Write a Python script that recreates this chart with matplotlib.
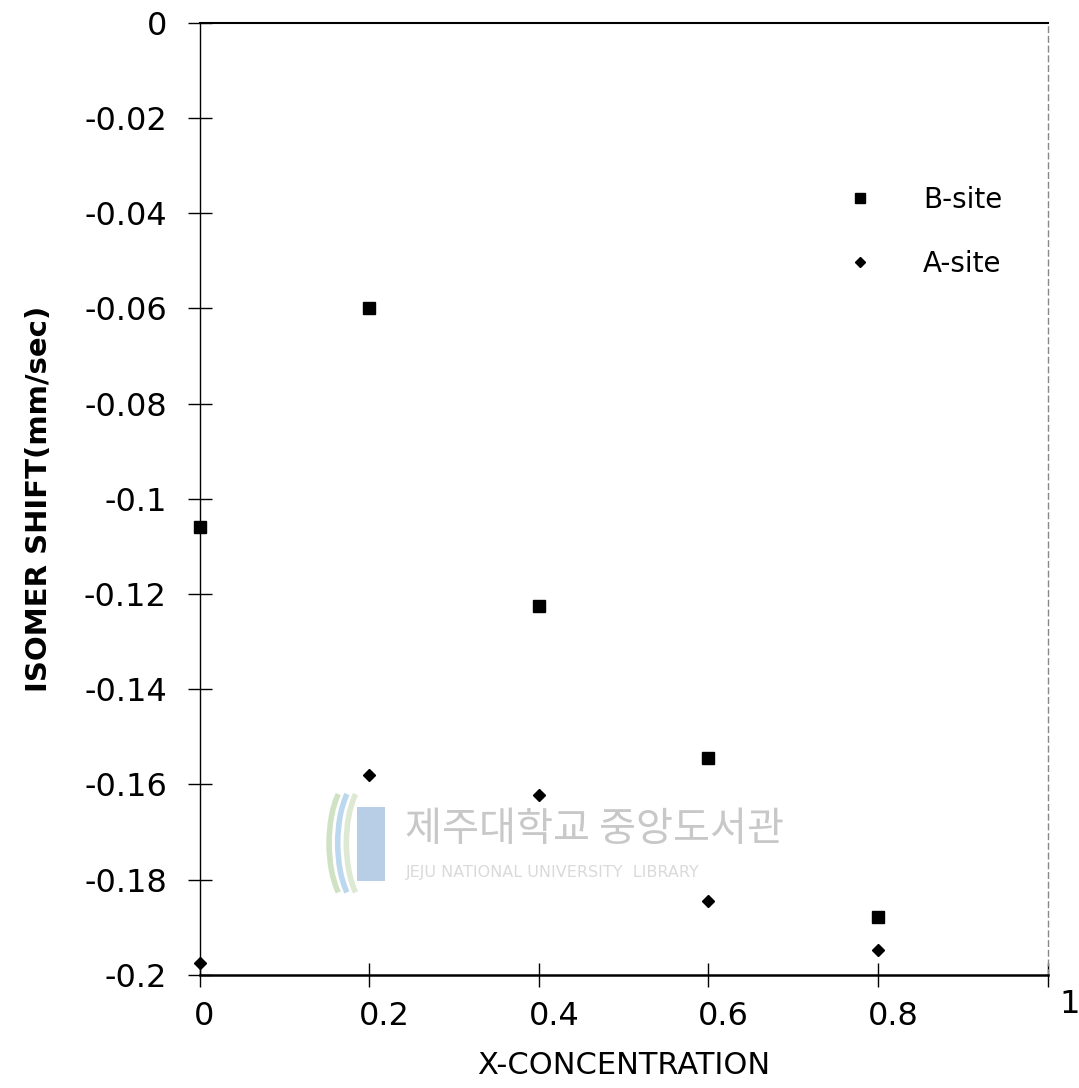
import matplotlib.pyplot as plt
from matplotlib.patches import Rectangle, Arc
from matplotlib.transforms import ScaledTranslation

# x-concentration and isomer shift values (mm/sec)
x_conc = [0.0, 0.2, 0.4, 0.6, 0.8]
b_site = [-0.106, -0.060, -0.1225, -0.1544, -0.1878]
a_site = [-0.1975, -0.158, -0.1622, -0.1845, -0.1947]

x_ticks = [0, 0.2, 0.4, 0.6, 0.8, 1]
x_ticklabels = ['0', '0.2', '0.4', '0.6', '0.8', '1']
y_ticks = [0, -0.02, -0.04, -0.06, -0.08, -0.1, -0.12, -0.14, -0.16, -0.18, -0.2]
y_ticklabels = ['0', '-0.02', '-0.04', '-0.06', '-0.08', '-0.1', '-0.12',
                '-0.14', '-0.16', '-0.18', '-0.2']

plt.rcParams['font.family'] = ['DejaVu Sans']

fig = plt.figure(figsize=(10.79, 10.88), dpi=100)
ax = fig.add_axes([0.185, 0.104, 0.786, 0.875])

# faint library watermark
fig.text(0.375, 0.238, '제주대학교 중앙도서관', family=['Noto Sans CJK KR'],
         fontsize=29, color='#c8c8c8', va='center', ha='left', zorder=0)
fig.text(0.376, 0.198, 'JEJU NATIONAL UNIVERSITY  LIBRARY', family=['DejaVu Sans'],
         fontsize=11.5, color='#dadada', va='center', ha='left', zorder=0)
fig.patches.append(Rectangle((0.331, 0.19), 0.026, 0.068, transform=fig.transFigure,
                             facecolor='#b8cde6', edgecolor='none', zorder=0))
for dx, col in [(0.0, '#cfe3c4'), (0.008, '#bcd8ee'), (0.016, '#dde9d3')]:
    fig.patches.append(Arc((0.33 + dx, 0.225), 0.05, 0.12, angle=0, theta1=110, theta2=250,
                           transform=fig.transFigure, color=col, lw=4, zorder=0))

ax.plot(x_conc, b_site, linestyle='none', marker='s', markersize=8,
        color='black', label='B-site', clip_on=False)
ax.plot(x_conc, a_site, linestyle='none', marker='D', markersize=6.5,
        color='black', label='A-site', clip_on=False)

ax.set_xlim(0, 1)
ax.set_ylim(-0.2, 0)
ax.set_xticks(x_ticks)
ax.set_xticklabels(x_ticklabels)
ax.set_yticks(y_ticks)
ax.set_yticklabels(y_ticklabels)
ax.tick_params(direction='inout', length=17, width=1, labelsize=23,
               top=False, right=False)
ax.tick_params(axis='y', pad=15)
ax.tick_params(axis='x', pad=10)

# the scanned x labels sit a little right of their ticks, the "1" even more
shifts = [(4, 0), (15, 0), (15, 0), (15, 0), (15, 0), (22, 12)]
for lab, (dx, dy) in zip(ax.get_xticklabels(), shifts):
    lab.set_transform(lab.get_transform() + ScaledTranslation(dx / 100, dy / 100, fig.dpi_scale_trans))

ax.spines['left'].set_linewidth(1.0)
ax.spines['bottom'].set_linewidth(1.8)
ax.spines['top'].set_linewidth(1.5)
ax.spines['right'].set_linewidth(1.0)
ax.spines['right'].set_color('#888888')
ax.spines['right'].set_linestyle((0, (4, 3)))

ax.set_xlabel('X-CONCENTRATION', fontsize=22, labelpad=14)
ax.set_ylabel('ISOMER SHIFT(mm/sec)', fontsize=21, fontweight='bold', labelpad=22)

ax.legend(loc='upper left', bbox_to_anchor=(0.725, 0.855), frameon=False,
          fontsize=20, markerscale=0.85, handlelength=1.5, handletextpad=1.5,
          labelspacing=1.3)

fig.savefig('out.png', dpi=100)
